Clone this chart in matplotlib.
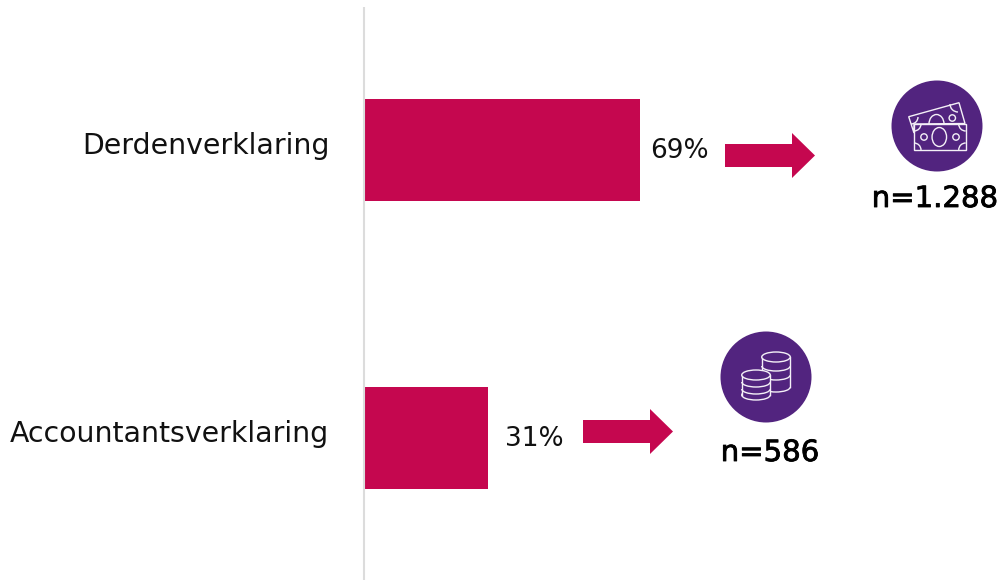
import matplotlib
matplotlib.use('Agg')
import matplotlib.pyplot as plt
from matplotlib.patches import Circle, Ellipse, Arc, FancyArrow, Polygon, Rectangle
import matplotlib.patheffects as pe

categories = ['Derdenverklaring', 'Accountantsverklaring']
values = [69, 31]
value_labels = ['69%', '31%']
n_labels = ['n=1.288', 'n=586']

RED = '#c5074f'
PURPLE = '#52247f'
WHITE = '#f4f0f7'
W, H = 1002, 580
ZERO_PX = 364.5
PX_PER_PCT = 4.0
ROW_PX = 288.0
FIRST_ROW_PX = 150.0
plt.rcParams['font.family'] = ['DejaVu Sans']


def money_icon(ax, cx, cy):
    ax.add_patch(Circle((cx, cy), 45.5, fc=PURPLE, ec='none', zorder=3))
    kw = dict(fc='none', ec=WHITE, lw=1.0, zorder=4)
    dx, dy = cx - 937, cy - 126
    back = [(908.7, 116.7), (959, 102.7), (965, 123.5), (914, 124), (914, 133)]
    ax.add_patch(Polygon([(x + dx, y + dy) for x, y in back], closed=True, **kw))
    ax.add_patch(Rectangle((914 + dx, 124 + dy), 51.7, 26, fc=PURPLE, ec=WHITE, lw=1.0, zorder=5))
    ax.add_patch(Arc((936.5 + dx, 124 + dy), 15, 19, theta1=180, theta2=360, ec=WHITE, lw=1.0, zorder=4))
    ax.add_patch(Circle((952.3 + dx, 118 + dy), 3.2, **kw))
    ax.add_patch(Arc((911 + dx, 117 + dy), 14, 14, theta1=0, theta2=90, ec=WHITE, lw=1.0, zorder=4))
    ax.add_patch(Arc((958 + dx, 104 + dy), 16, 16, theta1=90, theta2=180, ec=WHITE, lw=1.0, zorder=4))
    ax.add_patch(Ellipse((939.3 + dx, 137 + dy), 14.5, 19, fc='none', ec=WHITE, lw=1.0, zorder=6))
    for x in [924, 956]:
        ax.add_patch(Circle((x + dx, 137 + dy), 3.2, fc='none', ec=WHITE, lw=1.0, zorder=6))
    # corners of the front note
    for x, y, a, b in [(914, 124, 0, 90), (965.7, 124, 90, 180), (914, 150, 270, 360), (965.7, 150, 180, 270)]:
        ax.add_patch(Arc((x + dx, y + dy), 14, 14, theta1=a, theta2=b, ec=WHITE, lw=1.0, zorder=6))


def coin_stack(ax, cx, top, bottom, bands, z):
    w = 28.5
    h = 10
    ax.add_patch(Ellipse((cx, bottom), w, h, fc=PURPLE, ec=WHITE, lw=1.0, zorder=z))
    ax.add_patch(Rectangle((cx - w / 2, top), w, bottom - top, fc=PURPLE, ec='none', zorder=z))
    ax.plot([cx - w / 2, cx - w / 2], [top, bottom], color=WHITE, lw=1.0, zorder=z + 0.1)
    ax.plot([cx + w / 2, cx + w / 2], [top, bottom], color=WHITE, lw=1.0, zorder=z + 0.1)
    for y in bands:
        ax.add_patch(Arc((cx, y), w, h, theta1=0, theta2=180, ec=WHITE, lw=1.0, zorder=z + 0.1))
    ax.add_patch(Ellipse((cx, top), w, h, fc=PURPLE, ec=WHITE, lw=1.0, zorder=z + 0.2))


def coin_icon(ax, cx, cy):
    ax.add_patch(Circle((cx, cy), 45.5, fc=PURPLE, ec='none', zorder=3))
    coin_stack(ax, cx + 10, cy - 20, cy + 10, [cy - 11, cy - 2], 4)
    coin_stack(ax, cx - 10, cy - 2, cy + 18, [cy + 5, cy + 12], 5)


fig = plt.figure(figsize=(W / 100, H / 100), dpi=100)
ax = fig.add_axes([0, 0, 1, 1])
ax.set_xlim(-ZERO_PX / PX_PER_PCT, (W - ZERO_PX) / PX_PER_PCT)
ax.set_ylim((H - FIRST_ROW_PX) / ROW_PX, -FIRST_ROW_PX / ROW_PX)
ax.axis('off')
ax.barh(range(len(values)), values, height=102 / ROW_PX, color=RED, zorder=2)

# pixel layer for labels, arrows and icons
ov = fig.add_axes([0, 0, 1, 1])
ov.set_xlim(0, W)
ov.set_ylim(H, 0)
ov.axis('off')
ov.patch.set_alpha(0)

ov.plot([364, 364], [7, 580], color='#dcdcdc', lw=1.5, solid_capstyle='butt', zorder=1)

label_y = [146, 434]
value_x = [650, 505]
arrow_x = [725, 583]
arrow_y = [155.5, 431.5]
for i in range(2):
    ov.text(329.5, label_y[i], categories[i], ha='right', va='center', fontsize=20.4, color='#111111')
    ov.text(value_x[i], FIRST_ROW_PX + i * ROW_PX + 1, value_labels[i], ha='left', va='center',
            fontsize=19, color='#111111')
    ov.add_patch(FancyArrow(arrow_x[i], arrow_y[i], 90, 0, width=23, head_width=45, head_length=23,
                            length_includes_head=True, fc=RED, ec='none', zorder=3))

money_icon(ov, 937, 126)
coin_icon(ov, 766, 377)
n_pos = [(935, 199), (770, 453)]
for (x, y), s in zip(n_pos, n_labels):
    ov.text(x, y, s, ha='center', va='center', fontsize=21, color='black',
            path_effects=[pe.withStroke(linewidth=0.6, foreground='black')])

plt.savefig('out.png', dpi=100)
plt.close()
